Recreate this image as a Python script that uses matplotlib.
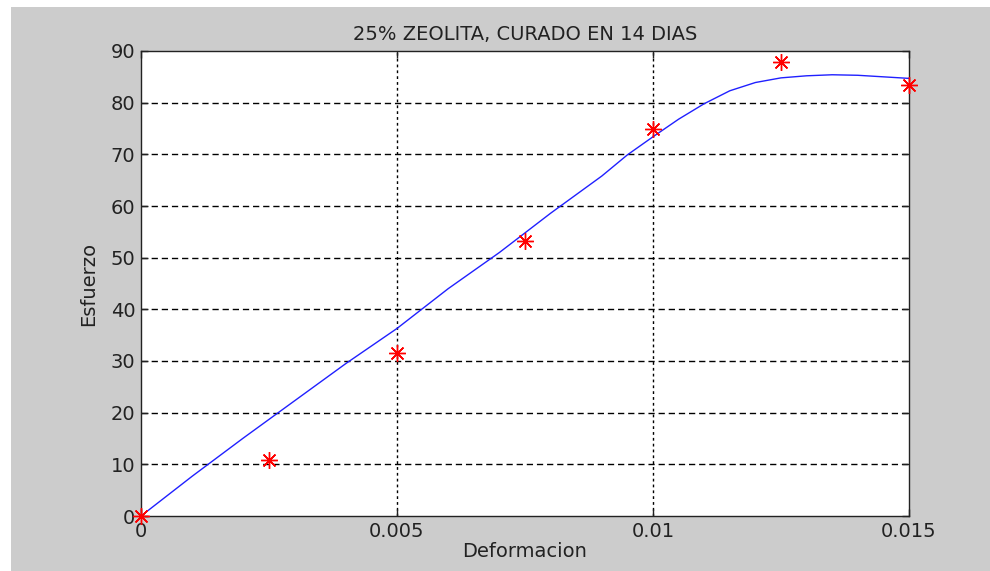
import matplotlib
matplotlib.use("Agg")
import matplotlib.pyplot as plt
from matplotlib.patches import Rectangle

# Measured data points (red asterisks)
deformacion = [0.0, 0.0025, 0.005, 0.0075, 0.010, 0.0125, 0.015]
esfuerzo = [0.0, 10.8, 31.6, 53.2, 75.0, 87.9, 83.4]

# Fitted curve (blue line)
curva_x = [0.0, 0.001, 0.002, 0.003, 0.004, 0.005, 0.006, 0.007, 0.008, 0.009,
           0.0095, 0.010, 0.0105, 0.011, 0.0115, 0.012, 0.0125, 0.013, 0.0135,
           0.014, 0.0145, 0.015]
curva_y = [0.0, 7.7, 15.1, 22.3, 29.5, 36.3, 44.0, 51.0, 58.6, 65.8,
           69.9, 73.4, 76.8, 79.8, 82.3, 83.9, 84.8, 85.2, 85.4,
           85.3, 85.0, 84.7]

x_ticks = [0, 0.005, 0.01, 0.015]
x_ticklabels = ["0", "0.005", "0.01", "0.015"]
y_ticks = [0, 10, 20, 30, 40, 50, 60, 70, 80, 90]

titulo = "25% ZEOLITA, CURADO EN 14 DIAS"

plt.rcParams['font.family'] = ['DejaVu Sans']
plt.rcParams['lines.scale_dashes'] = False

fig = plt.figure(figsize=(9.9, 5.71), dpi=100, facecolor='white')
fig.patches.append(Rectangle((11/990, 0), 1 - 11/990, (571 - 7)/571,
                             transform=fig.transFigure, facecolor='#cccccc',
                             edgecolor='none', zorder=-10))

ax = fig.add_axes([141/990, 1 - 516/571, (909 - 141)/990, (516 - 51)/571])
ax.set_facecolor('white')

ax.plot(curva_x, curva_y, color='#2020ff', linewidth=1.0, zorder=3)
ax.plot(deformacion, esfuerzo, linestyle='none', marker=(8, 2, 0),
        markersize=12, markeredgewidth=1.0, color='red', markeredgecolor='red',
        clip_on=False, zorder=4)

ax.set_xlim(0, 0.015)
ax.set_ylim(0, 90)
ax.set_xticks(x_ticks)
ax.set_xticklabels(x_ticklabels)
ax.set_yticks(y_ticks)

for xv in x_ticks[1:-1]:
    ax.axvline(xv, color='black', linewidth=1.0, dashes=(2.0, 2.2), zorder=1)
for yv in y_ticks[1:-1]:
    ax.axhline(yv, color='black', linewidth=1.0, dashes=(4.5, 2.8), zorder=1)

for s in ax.spines.values():
    s.set_color('#222222')
    s.set_linewidth(1.0)

ax.tick_params(direction='in', length=5, width=1, colors='#222222',
               labelsize=14, labelcolor='#222222', top=True, right=True, pad=4)

ax.set_title(titulo, fontsize=14, color='#222222', pad=8)
ax.set_xlabel("Deformacion", fontsize=14, color='#222222', labelpad=1)
ax.set_ylabel("Esfuerzo", fontsize=14, color='#222222', labelpad=9)

fig.savefig("out.png", dpi=100, facecolor=fig.get_facecolor())
